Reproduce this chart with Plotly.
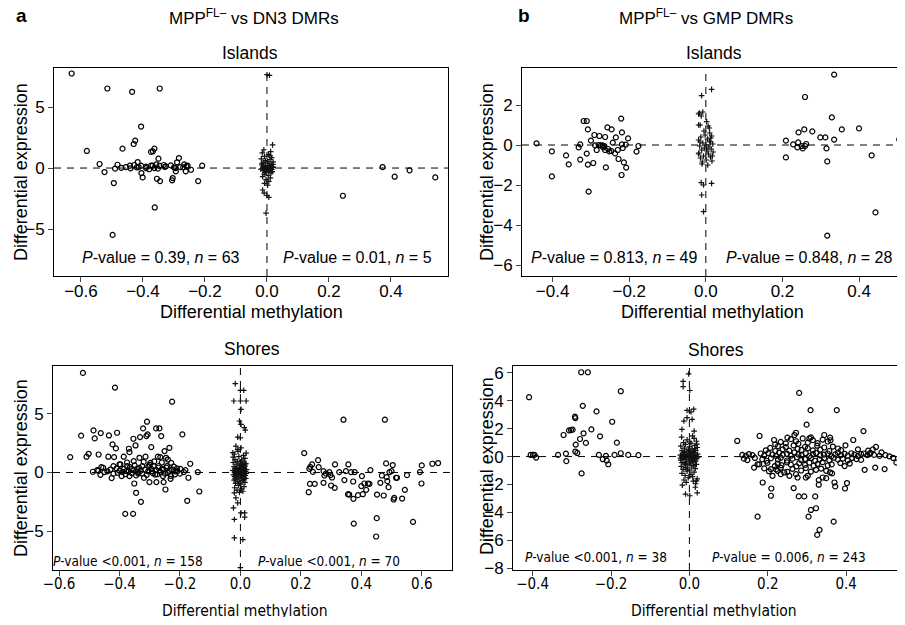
import plotly.graph_objects as go

# ---- data: (differential methylation, differential expression) ----

# a, islands (MPP FL- vs DN3)
dn3_isl_circles = [
    (-0.630, 7.75), (-0.581, 1.40), (-0.515, 6.52), (-0.435, 6.25), (-0.346, 6.52),
    (-0.406, 3.40), (-0.425, 2.25), (-0.430, 1.97), (-0.466, 1.59), (-0.540, 0.33),
    (-0.524, -0.33), (-0.490, -0.05), (-0.482, 0.27), (-0.494, -1.23), (-0.498, -5.48),
    (-0.455, 0.08), (-0.442, 0.19), (-0.428, 0.25), (-0.417, 0.49), (-0.414, 0.08),
    (-0.406, 0.19), (-0.405, -0.41), (-0.401, -0.77), (-0.390, 0.00), (-0.374, 0.19),
    (-0.369, 0.19), (-0.374, 1.32), (-0.368, 1.37), (-0.363, 1.59), (-0.350, 0.77),
    (-0.357, 0.30), (-0.363, 0.00), (-0.355, -0.88), (-0.345, -1.07), (-0.362, -3.23),
    (-0.347, 0.19), (-0.333, 0.25), (-0.310, 0.22), (-0.304, -0.82), (-0.306, -1.01),
    (-0.295, 0.00), (-0.290, 0.47), (-0.284, 0.82), (-0.294, -0.27), (-0.280, 0.08),
    (-0.267, 0.30), (-0.262, -0.27), (-0.256, 0.19), (-0.245, -0.14), (-0.222, -1.07),
    (-0.209, 0.19), (-0.326, 0.14), (-0.420, 0.05), (-0.380, -0.10), (-0.330, 0.10),
    (-0.300, 0.05), (-0.260, 0.15), (-0.470, 0.02), (-0.390, 0.12), (-0.352, -0.05),
    (-0.270, 0.05), (-0.440, -0.02),
    (0.245, -2.27), (0.373, 0.08), (0.412, -0.71), (0.460, -0.19), (0.543, -0.77),
]
dn3_isl_plus = [
    (0.000, 7.65), (0.008, 7.60), (-0.010, 1.50), (0.012, 1.35), (0.018, 1.90),
    (-0.015, 1.25), (0.005, 1.10), (-0.008, 0.95), (0.015, 0.85), (0.010, 0.70),
    (-0.018, 0.75), (-0.005, 0.60), (0.020, 0.50), (-0.012, 0.45), (0.003, 0.40),
    (0.014, 0.30), (-0.016, 0.25), (-0.006, 0.20), (0.008, 0.15), (0.018, 0.10),
    (-0.010, 0.05), (0.000, 0.00), (0.012, -0.02), (-0.015, -0.05), (0.005, -0.10),
    (-0.004, 0.08), (0.016, -0.12), (-0.011, -0.18), (0.009, -0.25), (-0.002, -0.30),
    (0.013, -0.40), (-0.009, -0.50), (0.004, -0.60), (-0.014, -0.70), (0.011, -0.80),
    (-0.003, -0.95), (0.006, -1.10), (-0.008, -1.25), (0.002, -1.40), (-0.012, 0.15),
    (0.007, 0.22), (0.017, -0.30), (-0.017, 0.35), (0.001, 0.55), (0.020, 0.05),
    (-0.020, -0.10), (-0.014, -1.80), (-0.009, -2.05), (0.000, -2.25), (0.006, -2.40),
    (-0.003, -3.70), (0.019, 0.30), (-0.007, -0.35), (0.010, 1.00), (-0.001, -0.15),
]

# b, islands (MPP FL- vs GMP)
gmp_isl_circles = [
    (-0.442, 0.08), (-0.402, -0.32), (-0.402, -1.57), (-0.365, -0.52), (-0.358, -0.97),
    (-0.332, -0.12), (-0.328, 0.03), (-0.328, -0.73), (-0.319, 1.20), (-0.311, 1.20),
    (-0.308, 0.78), (-0.311, -0.43), (-0.308, -0.98), (-0.306, -2.33), (-0.300, 0.22),
    (-0.294, -0.90), (-0.291, 0.50), (-0.289, -0.02), (-0.285, -0.25), (-0.278, 0.45),
    (-0.274, -0.02), (-0.265, -0.05), (-0.263, 0.40), (-0.263, -0.25), (-0.261, -1.12),
    (-0.257, 0.88), (-0.252, -0.32), (-0.246, 0.78), (-0.243, 0.12), (-0.237, -0.42),
    (-0.235, 0.38), (-0.230, -0.25), (-0.228, -0.70), (-0.221, 1.32), (-0.219, 0.63),
    (-0.219, 0.03), (-0.217, -0.15), (-0.220, -1.50), (-0.214, -0.87), (-0.209, 0.02),
    (-0.208, -1.13), (-0.203, 0.33), (-0.181, -0.33), (-0.176, -0.05), (-0.270, -0.02),
    (-0.280, 0.00), (-0.268, -0.12), (-0.255, -0.20), (-0.247, -0.30),
    (0.209, -0.62), (0.209, 0.22), (0.228, 0.03), (0.239, -0.12), (0.241, 0.13),
    (0.242, 0.63), (0.250, -0.05), (0.253, -0.17), (0.257, 0.78), (0.259, -0.05),
    (0.259, 2.40), (0.278, 0.68), (0.299, 0.38), (0.312, 0.38), (0.315, -0.17),
    (0.317, -0.82), (0.317, -4.53), (0.329, 1.38), (0.335, 3.52), (0.335, 0.27),
    (0.355, 0.78), (0.400, 0.83), (0.433, -0.52), (0.443, -3.37), (0.505, 0.28),
    (0.507, -0.65), (0.509, -1.30), (0.262, 0.05),
]
gmp_isl_plus = [
    (-0.011, 2.47), (0.015, 2.78), (-0.017, 1.60), (-0.008, 1.65), (-0.012, 1.45),
    (-0.019, 1.55), (-0.015, 1.00), (0.002, 1.17), (0.006, 0.95), (-0.019, 1.00),
    (0.010, 0.60), (-0.005, 0.70), (0.015, 0.45), (-0.013, 0.40), (0.004, 0.30),
    (-0.019, 0.25), (0.012, 0.15), (-0.008, 0.10), (0.018, 0.05), (0.000, 0.00),
    (-0.016, -0.05), (0.008, -0.10), (-0.004, -0.15), (0.014, -0.20), (-0.011, -0.25),
    (0.003, -0.30), (0.019, -0.35), (-0.018, -0.40), (0.007, -0.45), (-0.006, -0.55),
    (0.012, -0.60), (-0.014, -0.65), (0.001, -0.75), (0.016, -0.80), (-0.009, -0.85),
    (0.005, -1.00), (-0.012, -1.88), (-0.006, -2.00), (0.015, -1.92), (-0.011, -2.50),
    (-0.006, -3.33), (0.010, 0.20), (-0.002, 0.50), (0.017, -0.55), (-0.019, -0.45),
    (0.009, 0.85), (-0.010, -0.95), (0.002, -0.20), (0.013, 0.35), (-0.015, 0.15),
]

# a, shores
dn3_sho_circles = [
    (-0.521, 8.47), (-0.415, 7.22), (-0.226, 6.02), (-0.563, 1.31), (-0.527, 3.13),
    (-0.509, 1.34), (-0.502, 1.59), (-0.486, 3.58), (-0.482, 2.90), (-0.469, 1.53),
    (-0.462, 3.35), (-0.488, 0.06), (-0.474, 0.20), (-0.463, -0.20), (-0.454, 0.40),
    (-0.450, 0.03), (-0.437, 1.34), (-0.435, 3.15), (-0.426, -0.48), (-0.423, 2.39),
    (-0.420, 0.54), (-0.418, 1.31), (-0.412, 2.05), (-0.408, 3.38), (-0.406, -0.03),
    (-0.397, 0.68), (-0.393, -0.31), (-0.386, 1.34), (-0.381, -3.52), (-0.378, 0.11),
    (-0.375, 0.54), (-0.369, 2.02), (-0.367, -0.31), (-0.367, 1.73), (-0.359, 0.31),
    (-0.355, -3.52), (-0.354, 2.87), (-0.353, 0.97), (-0.351, -0.94), (-0.347, 2.30),
    (-0.345, -1.73), (-0.342, 0.31), (-0.338, -0.09), (-0.334, 1.25), (-0.332, 3.01),
    (-0.329, -2.50), (-0.325, 0.54), (-0.322, 3.75), (-0.319, -0.45), (-0.314, 1.34),
    (-0.311, 3.10), (-0.309, 4.32), (-0.307, 3.24), (-0.304, 0.54), (-0.301, -0.82),
    (-0.298, 0.82), (-0.295, 2.16), (-0.292, 0.11), (-0.287, 0.54), (-0.282, -0.17),
    (-0.279, 3.75), (-0.278, -0.82), (-0.273, 1.34), (-0.271, 0.40), (-0.268, 3.75),
    (-0.265, 1.31), (-0.262, 3.10), (-0.259, 0.31), (-0.256, -0.31), (-0.254, -0.82),
    (-0.251, 1.82), (-0.248, -1.45), (-0.246, 1.25), (-0.243, 0.54), (-0.240, -0.03),
    (-0.235, 2.10), (-0.231, -0.54), (-0.229, 0.82), (-0.226, 0.26), (-0.217, -0.17),
    (-0.208, 0.11), (-0.199, 0.31), (-0.192, 3.24), (-0.187, 0.03), (-0.182, 0.20),
    (-0.176, -2.41), (-0.172, -0.45), (-0.166, 0.74), (-0.141, 0.03), (-0.136, -1.62),
    (-0.470, 0.15), (-0.460, 0.45), (-0.440, 0.10), (-0.430, 0.25), (-0.420, -0.10),
    (-0.410, 0.35), (-0.400, 0.15), (-0.400, 0.70), (-0.390, 0.05), (-0.385, 0.30),
    (-0.380, -0.15), (-0.375, 0.85), (-0.370, 0.10), (-0.365, 0.45), (-0.360, -0.05),
    (-0.355, 0.20), (-0.350, 0.60), (-0.345, -0.25), (-0.340, 0.05), (-0.335, 0.40),
    (-0.330, 0.15), (-0.325, -0.10), (-0.320, 0.90), (-0.315, 0.25), (-0.310, -0.20),
    (-0.305, 0.10), (-0.300, 0.65), (-0.295, 0.30), (-0.290, -0.05), (-0.285, 0.95),
    (-0.280, 0.20), (-0.275, -0.15), (-0.270, 0.55), (-0.265, 0.05), (-0.260, 0.85),
    (-0.255, 0.25), (-0.250, -0.10), (-0.245, 0.40), (-0.240, 1.10), (-0.235, 0.15),
    (-0.230, -0.30), (-0.220, 0.50), (-0.215, 0.10), (-0.210, 0.35), (-0.200, -0.10),
    (0.341, 4.49), (0.478, 4.49), (0.211, 1.65), (0.228, 0.31), (0.231, 0.48),
    (0.237, 0.68), (0.230, -0.97), (0.246, -0.97), (0.226, -1.68), (0.257, 1.05),
    (0.259, 0.45), (0.275, 0.11), (0.278, -0.26), (0.275, -0.88), (0.283, -0.09),
    (0.294, 0.03), (0.298, -0.23), (0.300, -1.11), (0.303, -0.43), (0.312, -1.31),
    (0.313, 0.68), (0.327, 0.03), (0.344, -0.65), (0.349, 0.11), (0.357, 0.68),
    (0.356, -1.85), (0.360, -1.88), (0.366, 0.03), (0.373, -0.77), (0.374, -2.24),
    (0.375, -4.35), (0.378, 0.03), (0.389, -1.93), (0.402, -0.31), (0.400, -1.16),
    (0.405, -1.85), (0.410, -0.94), (0.416, -1.48), (0.422, -0.94), (0.427, -0.97),
    (0.451, -3.89), (0.449, -5.45), (0.452, -1.88), (0.463, -0.88), (0.468, -0.26),
    (0.474, -1.96), (0.482, 0.77), (0.484, -0.40), (0.486, -0.74), (0.490, -1.25),
    (0.493, 0.03), (0.500, 0.11), (0.504, 0.63), (0.507, -2.30), (0.509, -2.16),
    (0.515, -0.45), (0.518, -0.45), (0.535, -2.22), (0.544, -1.48), (0.551, -0.23),
    (0.571, -4.20), (0.594, 0.03), (0.599, -0.94), (0.600, 0.60), (0.635, 0.74),
    (0.654, 0.80), (0.240, 0.05), (0.430, 0.20),
]
dn3_sho_plus = [
    (-0.017, 7.56), (0.000, 6.99), (0.011, 6.99), (-0.022, 6.08), (0.000, 6.08),
    (0.019, 6.08), (0.002, 5.37), (-0.003, 4.38), (0.002, 4.09), (0.013, 3.81),
    (0.016, 3.60), (-0.009, 3.01), (0.000, 2.95), (-0.015, 2.24), (0.002, 2.10),
    (-0.009, 1.95), (-0.025, 1.68), (-0.020, -1.73), (-0.015, -2.16), (-0.009, -2.59),
    (-0.023, -3.01), (0.002, -3.44), (0.014, -3.44), (0.014, -3.80), (-0.020, -4.00),
    (-0.020, -5.57), (0.008, -5.71), (0.000, -8.10),
    (-0.020, 1.55), (0.010, 1.45), (-0.005, 1.35), (0.015, 1.20), (-0.018, 1.10),
    (0.004, 1.05), (-0.010, 0.95), (0.012, 0.90), (-0.024, 0.85), (0.000, 0.80),
    (0.018, 0.75), (-0.014, 0.70), (0.007, 0.65), (-0.003, 0.60), (0.016, 0.55),
    (-0.021, 0.50), (0.009, 0.45), (-0.008, 0.42), (0.003, 0.38), (0.013, 0.35),
    (-0.017, 0.32), (-0.001, 0.28), (0.020, 0.25), (-0.012, 0.22), (0.006, 0.20),
    (-0.025, 0.18), (0.011, 0.15), (-0.006, 0.12), (0.017, 0.10), (-0.015, 0.08),
    (0.002, 0.05), (-0.020, 0.03), (0.014, 0.02), (-0.009, 0.00), (0.008, -0.02),
    (-0.002, -0.05), (0.019, -0.08), (-0.016, -0.10), (0.005, -0.12), (-0.011, -0.15),
    (0.012, -0.18), (-0.023, -0.20), (0.000, -0.22), (0.016, -0.25), (-0.007, -0.28),
    (0.009, -0.32), (-0.019, -0.35), (0.003, -0.40), (-0.013, -0.45), (0.018, -0.50),
    (-0.004, -0.55), (0.011, -0.60), (-0.021, -0.65), (0.006, -0.70), (-0.009, -0.78),
    (0.015, -0.85), (-0.016, -0.92), (0.001, -1.00), (-0.006, -1.10), (0.012, -1.20),
    (-0.019, -1.30), (0.004, -1.40), (-0.011, -1.50), (0.008, -1.60), (-0.003, -1.70),
    (-0.024, 1.30), (0.019, 1.65), (-0.008, 1.80), (0.000, 0.30), (-0.004, 0.15),
    (0.010, -0.40), (-0.014, 0.40), (0.005, 0.55), (-0.018, -0.55), (0.014, 0.65),
    (-0.001, -0.88),
]

# b, shores
gmp_sho_circles = [
    (-0.409, 4.26), (-0.405, 0.12), (-0.399, 0.12), (-0.395, 0.12), (-0.391, -0.07),
    (-0.335, 0.12), (-0.321, 1.55), (-0.315, 0.21), (-0.314, -0.33), (-0.307, 1.88),
    (-0.302, 1.90), (-0.298, 1.93), (-0.292, 2.86), (-0.291, 2.76), (-0.290, 0.86),
    (-0.291, 0.36), (-0.286, 0.26), (-0.279, 1.26), (-0.276, 6.05), (-0.275, -1.21),
    (-0.272, 3.64), (-0.270, 1.67), (-0.264, 0.98), (-0.259, 6.05), (-0.250, 1.95),
    (-0.237, 3.24), (-0.231, 0.12), (-0.228, 1.45), (-0.221, -0.19), (-0.213, 0.05),
    (-0.211, -0.29), (-0.207, -0.55), (-0.197, 2.50), (-0.191, 0.12), (-0.185, 1.00),
    (-0.175, 4.69), (-0.175, 0.24), (-0.156, 0.12), (-0.130, 0.10),
    (0.122, 1.12), (0.174, -4.31), (0.179, 1.48), (0.187, -1.86), (0.209, -2.29),
    (0.208, -2.81), (0.212, -1.38), (0.216, 1.19), (0.219, 0.88), (0.280, 4.57),
    (0.309, 3.33), (0.376, 3.33), (0.299, 2.29), (0.266, -2.26), (0.279, -2.86),
    (0.293, -2.86), (0.321, -2.86), (0.310, -3.83), (0.323, -3.71), (0.304, -4.31),
    (0.332, -5.26), (0.326, -5.62), (0.368, -4.67), (0.444, 1.83), (0.418, 1.19),
    (0.398, 0.81), (0.541, 0.71), (0.539, -2.05), (0.528, -0.43), (0.498, -0.90),
    (0.474, -0.79), (0.447, -0.95), (0.397, -2.29), (0.402, -1.90), (0.344, 1.55),
    (0.359, 1.36), (0.360, 1.17), (0.310, 1.38), (0.306, 1.31), (0.272, 1.71),
    (0.268, 1.55), (0.250, 1.36), (0.468, 0.52), (0.476, 0.69), (0.460, 0.21),
    (0.485, 0.05), (0.370, -1.86), (0.372, -2.14), (0.359, -1.14), (0.364, -1.21),
    (0.340, -1.50), (0.349, -1.55), (0.330, -1.69), (0.330, -2.02), (0.297, -1.50),
    (0.302, -1.38), (0.276, -1.50), (0.272, -1.26), (0.255, -1.38), (0.242, -1.14),
    (0.233, -1.26), (0.225, -1.02), (0.208, -0.90), (0.165, -0.79), (0.174, -0.55),
    (0.500, 0.10), (0.510, 0.02), (0.520, -0.10), (0.490, 0.30),
    # dense band around zero
    (0.135, 0.12), (0.144, 0.05), (0.152, 0.18), (0.161, 0.10), (0.182, 0.22),
    (0.191, 0.08), (0.201, 0.25), (0.212, 0.15), (0.221, 0.05), (0.229, 0.28),
    (0.238, 0.12), (0.249, 0.20), (0.259, 0.06), (0.268, 0.30), (0.278, 0.15),
    (0.286, 0.10), (0.297, 0.24), (0.306, 0.04), (0.315, 0.18), (0.323, 0.26),
    (0.334, 0.08), (0.343, 0.14), (0.353, 0.22), (0.362, 0.02), (0.372, 0.16),
    (0.379, 0.28), (0.387, 0.10), (0.396, 0.20), (0.404, 0.06), (0.413, 0.24),
    (0.421, 0.14), (0.430, 0.04), (0.438, 0.18), (0.445, 0.22), (0.454, 0.10),
    (0.462, 0.26), (0.471, 0.12),
    (0.139, -0.15), (0.148, -0.25), (0.167, -0.10), (0.186, -0.20), (0.197, -0.30),
    (0.208, -0.12), (0.226, -0.22), (0.233, -0.08), (0.249, -0.28), (0.263, -0.15),
    (0.274, -0.05), (0.285, -0.25), (0.295, -0.18), (0.310, -0.10), (0.321, -0.30),
    (0.332, -0.20), (0.344, -0.12), (0.357, -0.26), (0.368, -0.08), (0.379, -0.22),
    (0.391, -0.15), (0.404, -0.28), (0.415, -0.10), (0.426, -0.18), (0.438, -0.24),
    (0.195, 0.45), (0.206, 0.62), (0.219, 0.40), (0.226, 0.75), (0.238, 0.52),
    (0.246, 0.68), (0.255, 0.42), (0.266, 0.80), (0.276, 0.55), (0.286, 0.48),
    (0.295, 0.70), (0.302, 0.60), (0.315, 0.44), (0.326, 0.78), (0.334, 0.50),
    (0.344, 0.65), (0.357, 0.40), (0.366, 0.72), (0.379, 0.58), (0.387, 0.46),
    (0.430, 0.52), (0.456, 0.42),
    (0.178, -0.55), (0.199, -0.45), (0.218, -0.68), (0.225, -0.50), (0.235, -0.62),
    (0.249, -0.42), (0.259, -0.58), (0.273, -0.70), (0.280, -0.48), (0.295, -0.60),
    (0.306, -0.44), (0.317, -0.66), (0.327, -0.52), (0.340, -0.40), (0.353, -0.64),
    (0.363, -0.56), (0.385, -0.46), (0.396, -0.68), (0.409, -0.50),
    (0.233, 1.05), (0.246, 0.95), (0.259, 1.25), (0.272, 1.10), (0.278, 0.92),
    (0.289, 1.30), (0.302, 1.00), (0.315, 1.18), (0.327, 0.96), (0.340, 1.22),
    (0.353, 1.08),
    (0.191, -0.85), (0.203, -1.05), (0.221, -0.92), (0.233, -0.80), (0.250, -1.10),
    (0.263, -0.88), (0.285, -1.00), (0.297, -0.82), (0.310, -1.08), (0.323, -0.95),
    (0.336, -0.86), (0.349, -1.02),
]
gmp_sho_plus = [
    (-0.016, 5.40), (-0.016, 5.02), (-0.002, 5.93), (0.001, 4.74), (-0.006, 3.31),
    (0.004, 3.21), (0.011, 3.40), (-0.014, 2.55), (-0.006, 2.79), (0.007, 2.67),
    (-0.019, 1.95), (0.012, 1.83), (0.008, 1.48), (-0.010, -2.69), (0.001, -2.81),
    (0.015, -2.20), (0.020, -2.60), (0.018, -1.74),
    (-0.020, 1.40), (0.012, 1.30), (-0.006, 1.20), (0.018, 1.10), (-0.015, 1.00),
    (0.004, 0.95), (-0.010, 0.88), (0.014, 0.80), (-0.022, 0.75), (0.000, 0.70),
    (0.020, 0.65), (-0.013, 0.60), (0.007, 0.55), (-0.003, 0.50), (0.016, 0.45),
    (-0.019, 0.42), (0.009, 0.38), (-0.008, 0.35), (0.003, 0.30), (0.013, 0.27),
    (-0.017, 0.24), (-0.001, 0.21), (0.021, 0.18), (-0.012, 0.15), (0.006, 0.12),
    (-0.023, 0.10), (0.011, 0.08), (-0.006, 0.05), (0.017, 0.03), (-0.015, 0.01),
    (0.002, 0.00), (-0.020, -0.02), (0.014, -0.04), (-0.009, -0.06), (0.008, -0.08),
    (-0.002, -0.10), (0.019, -0.12), (-0.016, -0.15), (0.005, -0.18), (-0.011, -0.20),
    (0.012, -0.23), (-0.022, -0.26), (0.000, -0.30), (0.016, -0.33), (-0.007, -0.37),
    (0.009, -0.40), (-0.019, -0.44), (0.003, -0.48), (-0.013, -0.52), (0.018, -0.56),
    (-0.004, -0.60), (0.011, -0.65), (-0.021, -0.70), (0.006, -0.75), (-0.009, -0.80),
    (0.015, -0.86), (-0.016, -0.92), (0.001, -0.98), (-0.006, -1.05), (0.012, -1.12),
    (-0.019, -1.20), (0.004, -1.28), (-0.011, -1.36), (0.008, -1.44), (-0.003, -1.52),
    (0.020, -1.60), (-0.014, -1.68), (0.010, -1.76), (-0.008, -1.85), (0.016, -1.95),
    (-0.018, -2.05), (0.004, 0.20), (-0.004, 0.10), (0.010, -0.15), (-0.014, 0.30),
    (0.022, -0.05), (-0.001, 0.40), (0.007, -0.28), (-0.023, -0.12), (0.013, 0.58),
    (-0.010, -0.55), (0.019, 0.90), (-0.005, -0.90), (0.001, 1.05),
]

# the page body keeps its default 8px margin, so the figure is sized to fit the window
OFF = 8
W, H = 905 - OFF, 625 - 2 * OFF
FONT = "Liberation Sans"
NARROW = "DejaVu Sans Condensed, Liberation Sans"


def fx(p):
    return (p - OFF) / W


def fy(p):
    return 1 - (p - OFF) / H


# panel geometry in window pixels: (left, right), (top, bottom)
panels = [
    dict(c=dn3_isl_circles, p=dn3_isl_plus, xpx=(54, 448), ypx=(68, 276),
         xr=[-0.687, 0.584], yr=[-8.85, 8.2],
         xt=[-0.6, -0.4, -0.2, 0.0, 0.2, 0.4], yt=[-5, 0, 5], narrow=False),
    dict(c=gmp_isl_circles, p=gmp_isl_plus, xpx=(522, 905), ypx=(68, 276),
         xr=[-0.48, 0.52], yr=[-6.55, 3.85],
         xt=[-0.4, -0.2, 0.0, 0.2, 0.4], yt=[-6, -4, -2, 0, 2], narrow=False),
    dict(c=dn3_sho_circles, p=dn3_sho_plus, xpx=(53, 452), ypx=(366, 570),
         xr=[-0.62, 0.70], yr=[-8.3, 9.06],
         xt=[-0.6, -0.4, -0.2, 0.0, 0.2, 0.4, 0.6], yt=[-5, 0, 5], narrow=True),
    dict(c=gmp_sho_circles, p=gmp_sho_plus, xpx=(513, 905), ypx=(366, 570),
         xr=[-0.45, 0.55], yr=[-8.14, 6.5],
         xt=[-0.4, -0.2, 0.0, 0.2, 0.4], yt=[-8, -6, -4, -2, 0, 2, 4, 6], narrow=True),
]

fig = go.Figure()
layout = dict(
    width=W, height=H, margin=dict(l=0, r=0, t=0, b=0, autoexpand=False),
    paper_bgcolor="white", plot_bgcolor="white", showlegend=False,
    font=dict(family=FONT, color="black"),
)
shapes = []

for i, pn in enumerate(panels, start=1):
    sx = "" if i == 1 else str(i)
    fig.add_trace(go.Scatter(
        x=[v[0] for v in pn["p"]], y=[v[1] for v in pn["p"]], mode="markers",
        marker=dict(symbol="cross-thin", size=4, line=dict(width=1.2, color="#111")),
        xaxis="x" + sx, yaxis="y" + sx))
    fig.add_trace(go.Scatter(
        x=[v[0] for v in pn["c"]], y=[v[1] for v in pn["c"]], mode="markers",
        marker=dict(symbol="circle-open", size=5, color="black", line=dict(width=1.2)),
        xaxis="x" + sx, yaxis="y" + sx))
    if pn["narrow"]:
        tick_font = dict(family=NARROW, size=15, color="black")
    else:
        tick_font = dict(family=FONT, size=17, color="black")
    layout["xaxis" + sx] = dict(
        domain=[fx(pn["xpx"][0]), min(1.0, fx(pn["xpx"][1]))], range=pn["xr"],
        anchor="y" + sx, automargin=False, ticklabelstandoff=-5,
        tickvals=pn["xt"], tickformat=".1f", ticks="outside", ticklen=5, tickwidth=1,
        showline=True, linecolor="black", linewidth=1, mirror=True,
        showgrid=False, zeroline=False, tickfont=tick_font)
    layout["yaxis" + sx] = dict(
        domain=[fy(pn["ypx"][1]), fy(pn["ypx"][0])], range=pn["yr"], anchor="x" + sx,
        automargin=False,
        tickvals=pn["yt"], ticks="outside", ticklen=5, tickwidth=1,
        showline=True, linecolor="black", linewidth=1, mirror=True,
        showgrid=False, zeroline=False, tickfont=dict(family=FONT, size=17, color="black"))
    dash = dict(color="black", width=1, dash="7px,6px")
    shapes.append(dict(type="line", xref="x" + sx, yref="y" + sx + " domain",
                       x0=0, x1=0, y0=0, y1=1, line=dash, layer="below"))
    shapes.append(dict(type="line", xref="x" + sx + " domain", yref="y" + sx,
                       x0=0, x1=1, y0=0, y1=0, line=dash, layer="below"))

layout["shapes"] = shapes


def label(text, x, y, size=17, family=FONT, angle=0, xanchor="center"):
    return dict(text=text, x=fx(x), y=fy(y), xref="paper", yref="paper",
                showarrow=False, xanchor=xanchor, yanchor="middle", textangle=angle,
                font=dict(family=family, size=size, color="black"))


annotations = [
    label("<b>a</b>", 14, 16, size=19, xanchor="left"),
    label("<b>b</b>", 516, 16, size=19, xanchor="left"),
    label("MPP<sup>FL–</sup> vs DN3 DMRs", 254, 17, size=17),
    label("MPP<sup>FL–</sup> vs GMP DMRs", 706, 17, size=17),
    label("Islands", 250, 53, size=17.5),
    label("Islands", 714, 53, size=17.5),
    label("Shores", 252, 349, size=17.5),
    label("Shores", 716, 350, size=17.5),
    label("Differential methylation", 251, 312, size=18),
    label("Differential methylation", 712, 312, size=18),
    label("Differential methylation", 245, 611, size=15.5, family=NARROW),
    label("Differential methylation", 714, 611, size=15.5, family=NARROW),
    label("Differential expression", 21, 172, size=18, angle=-90),
    label("Differential expression", 487, 172, size=18, angle=-90),
    label("Differential expression", 21, 468, size=18, angle=-90),
    label("Differential expression", 487, 466, size=18, angle=-90),
    label("<i>P</i>-value = 0.39, <i>n</i> = 63", 161, 258, size=16),
    label("<i>P</i>-value = 0.01, <i>n</i> = 5", 357, 258, size=16),
    label("<i>P</i>-value = 0.813, <i>n</i> = 49", 614, 258, size=16),
    label("<i>P</i>-value = 0.848, <i>n</i> = 28", 809, 258, size=16),
    label("<i>P</i>-value &lt;0.001, <i>n</i> = 158", 128, 561, size=13.5, family=NARROW),
    label("<i>P</i>-value &lt;0.001, <i>n</i> = 70", 329, 561, size=13.5, family=NARROW),
    label("<i>P</i>-value &lt;0.001, <i>n</i> = 38", 596, 557, size=13.5, family=NARROW),
    label("<i>P</i>-value = 0.006, <i>n</i> = 243", 789, 557, size=13.5, family=NARROW),
]
layout["annotations"] = annotations

fig.update_layout(**layout)
fig.write_html("out.html")
